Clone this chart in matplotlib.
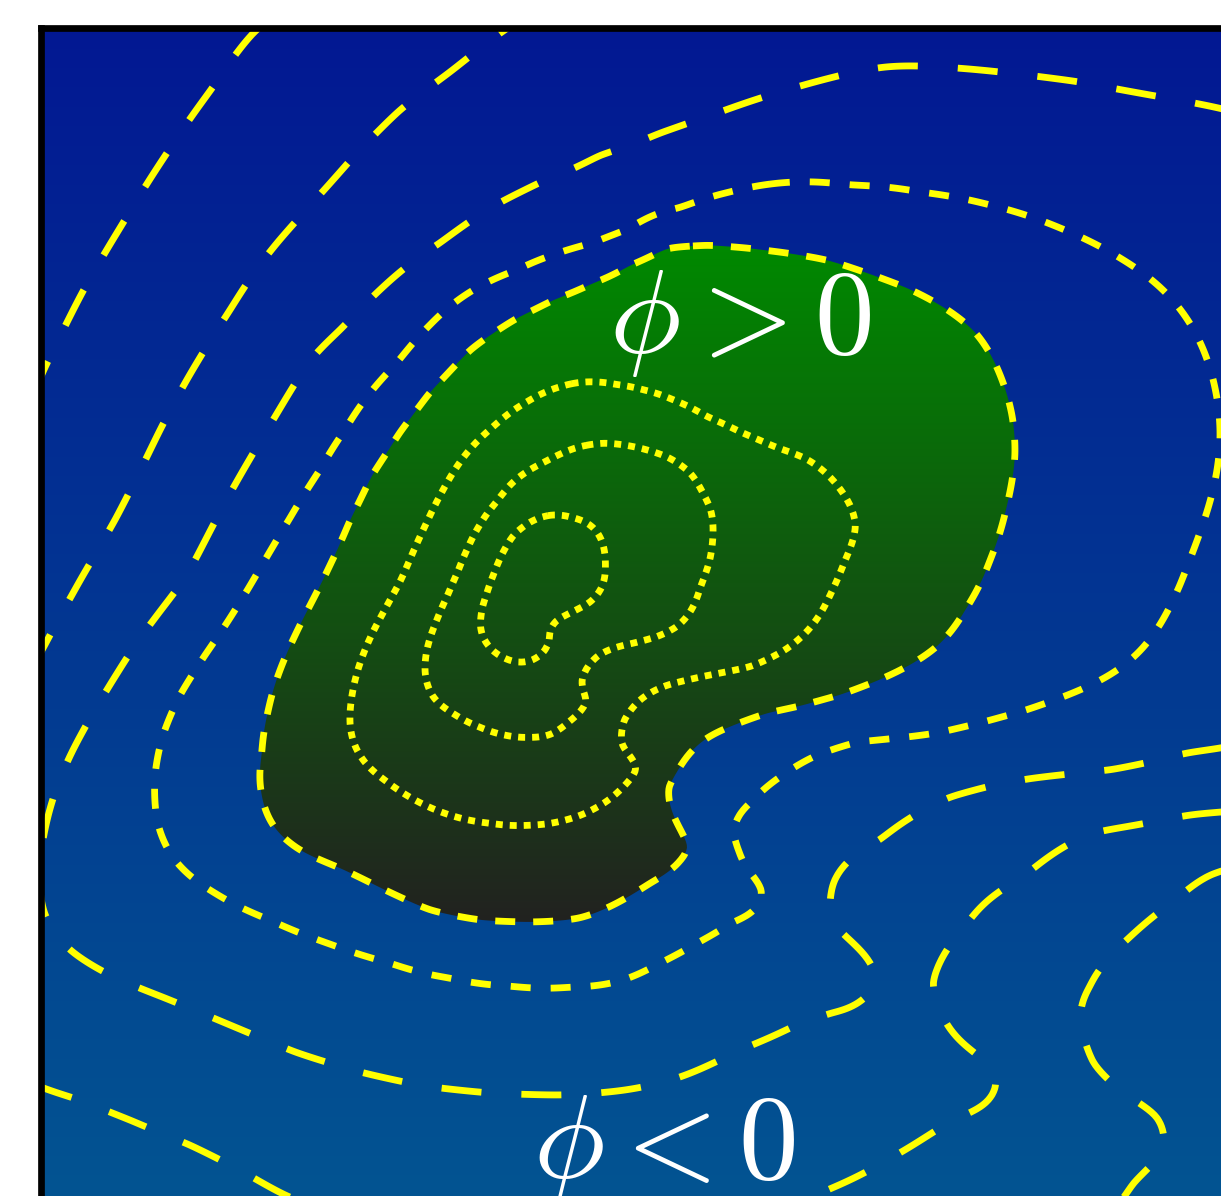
import numpy as np
import matplotlib
matplotlib.use("Agg")
import matplotlib.pyplot as plt

plt.rcParams['mathtext.fontset'] = 'cm'
plt.rcParams['lines.scale_dashes'] = False

# ---------------- data: level-set samples (pixel coords) -------------
level_p3 = [(550,515),(572,518),(590,525),(603,545),(605,565),(602,587),(590,603),(570,613),
            (555,620),(548,630),(551,642),(545,652),(533,660),(518,662),(503,657),(488,645),
            (480,628),(482,607),(490,583),(500,558),(513,535),(530,522)]
level_p2 = [(513,482),(497,502),(480,525),(468,548),(458,572),(448,595),(437,620),(428,645),
            (425,672),(433,697),(453,713),(480,727),(505,735),(530,737),(550,735),(568,722),
            (582,710),(590,702),(583,692),(580,680),(587,667),(598,655),(617,647),(635,643),
            (657,637),(677,627),(690,612),(700,587),(710,560),(713,533),(711,510),(702,492),
            (690,472),(668,457),(640,448),(605,443),(575,448),(545,462)]
level_p1 = [(593,382),(617,385),(643,390),(673,400),(707,417),(740,432),(775,447),(805,458),
            (830,477),(850,505),(856,525),(845,560),(830,595),(810,628),(785,650),(750,667),
            (700,677),(667,685),(640,700),(623,720),(620,743),(640,770),(620,790),(595,808),
            (565,820),(530,825),(490,823),(450,815),(415,800),(385,780),(360,755),(350,725),
            (353,690),(365,650),(382,615),(400,582),(413,552),(427,522),(442,492),
            (463,458),(492,428),(527,402),(560,387)]
level_0 = [(707,245),(747,248),(787,253),(827,260),(867,273),(907,288),(943,307),(975,332),
           (998,370),(1012,415),(1015,455),(1007,505),(990,560),(965,610),(935,648),(890,675),
           (840,695),(800,706),(767,713),(727,728),(693,750),(667,787),(677,823),(690,847),
           (680,860),(650,883),(617,903),(580,918),(530,922),(480,920),(430,910),(385,890),
           (340,868),(300,850),(275,828),(262,795),(262,755),(268,712),(282,665),(305,615),
           (330,565),(350,520),(372,475),(400,432),(430,392),(470,350),(517,318),(553,300),
           (593,283),(630,265),(667,248)]
level_m1 = [(780,183),(850,185),(920,192),(990,205),(1060,228),(1120,258),(1165,292),(1198,338),
            (1215,388),(1220,440),(1213,490),(1198,538),(1180,585),(1155,632),(1120,668),
            (1075,692),(1020,712),(980,723),(937,733),(897,738),(857,742),(817,755),(783,775),
            (752,802),(732,833),(743,863),(763,890),(760,903),(730,923),(697,943),(660,963),
            (623,980),(570,987),(510,986),(450,978),(390,963),(330,944),(270,920),(215,893),
            (175,860),(157,820),(155,775),(163,735),(180,695),(205,655),(235,610),(262,565),
            (290,518),(320,470),(345,430),(367,397),(397,363),(430,325),(470,292),(517,270),
            (553,255),(593,243),(627,230),(680,208),(730,192)]
level_m2 = [(1235,112),(1150,95),(1080,82),(1000,72),(940,67),(885,67),(830,78),(780,92),
            (720,112),(660,133),(600,155),(545,180),(490,208),(440,243),(383,287),(340,330),
            (313,357),(285,400),(258,445),(232,490),(208,535),(185,578),(152,622),(118,672),
            (88,722),(62,775),(46,825),(40,872),(45,915),(70,950),(110,975),(165,998),
            (230,1025),(295,1052),(360,1072),(425,1086),(490,1093),(560,1095),(625,1090),
            (680,1077),(740,1050),(800,1023),(830,1013),(878,980),(870,963),(850,940),
            (830,917),(830,900),(833,883),(850,860),(880,840),(915,815),(950,797),(990,786),
            (1027,779),(1070,774),(1110,770),(1150,762),(1187,753),(1235,745)]
level_m3 = [(520,20),(450,72),(400,110),(355,155),(315,200),(277,243),(230,310),(185,383),
            (160,430),(138,475),(115,520),(95,555),(72,595),(50,635),(30,670),
            (25,1080),(80,1100),(130,1120),(190,1145),(240,1170),(285,1195),
            (820,1193),(887,1160),(953,1120),(997,1080),(987,1063),(943,1017),(932,983),
            (963,930),(1023,877),(1093,833),(1190,815),(1240,810)]
level_m4 = [(270,18),(253,33),(213,87),(167,153),(123,223),(82,293),(45,367),(30,398),
            (1240,866),(1210,875),(1178,898),(1130,937),(1090,987),(1080,1023),(1093,1063),
            (1120,1090),(1157,1117),(1163,1150),(1133,1183),(1110,1215)]
# extra field samples (x, y, phi) between the drawn levels
field_anchors = [(545,585,3.5),(650,560,2.5),(500,780,1.5),(760,560,1.5),
                 (900,450,0.5),(700,300,0.5),(300,780,0.5),(520,880,0.5),
                 (1100,400,-0.5),(880,712,-0.5),
                 (900,130,-1.5),(1225,200,-1.5),(1225,600,-1.3),(1150,720,-1.5),
                 (550,1035,-1.5),(100,800,-1.6),(790,950,-1.5),
                 (1225,30,-2.5),(1100,30,-2.4),(700,30,-2.6),(600,100,-2.4),(300,300,-2.5),
                 (30,760,-2.3),(30,1000,-2.6),(200,1080,-2.5),(550,1170,-2.6),(720,1150,-2.5),
                 (860,1100,-2.5),(900,1060,-2.6),(1100,800,-2.5),(1240,780,-2.5),
                 (30,500,-3.5),(30,1220,-3.5),(1000,950,-3.5),(1050,1160,-3.5),(1000,1180,-3.5),
                 (1240,840,-3.5),
                 (30,30,-4.6),(60,150,-4.4),(1200,1010,-4.3),(1250,1000,-4.4),(1250,1250,-4.6)]

level_values = [-4, -3, -2, -1, 0, 1, 2, 3]
level_traces = [level_m4, level_m3, level_m2, level_m1, level_0, level_p1, level_p2, level_p3]

# ---------------- smooth field through the samples (thin-plate spline) -----------------
pts, vals = [], []
for v, tr in zip(level_values, level_traces):
    for (x, y) in tr:
        pts.append((x, y)); vals.append(v)
for (x, y, v) in field_anchors:
    pts.append((x, y)); vals.append(v)
P = np.array(pts, float) / 1000.0
fv = np.array(vals, float)

def tps_kernel(r2):
    out = np.zeros_like(r2)
    m = r2 > 0
    out[m] = 0.5 * r2[m] * np.log(r2[m])
    return out

n = len(P)
K = tps_kernel(((P[:, None, :] - P[None, :, :]) ** 2).sum(-1))
lam = 2e-4
A = np.zeros((n + 3, n + 3))
A[:n, :n] = K + lam * np.eye(n)
A[:n, n] = 1.0
A[:n, n + 1:] = P
A[n, :n] = 1.0
A[n + 1:, :n] = P.T
b = np.concatenate([fv, np.zeros(3)])
sol = np.linalg.solve(A, b)
w, a = sol[:n], sol[n:]

xs = np.linspace(30, 1270, 420)
ys = np.linspace(20, 1250, 420)
X, Y = np.meshgrid(xs, ys)
Z = np.empty_like(X)
for i in range(0, len(ys), 40):
    G = np.stack([X[i:i+40].ravel(), Y[i:i+40].ravel()], axis=1) / 1000.0
    Kg = tps_kernel(((G[:, None, :] - P[None, :, :]) ** 2).sum(-1))
    Z[i:i+40] = (Kg @ w + a[0] + G[:, 0] * a[1] + G[:, 1] * a[2]).reshape(X[i:i+40].shape)

# ---------------- figure ----------------
W, H, DPI = 1221, 1196, 100
fig = plt.figure(figsize=(W / DPI, H / DPI), dpi=DPI)
x0, x1 = 40.7, 1262.0
y0, y1 = 28.3, 1240.0
ax = fig.add_axes([x0 / W, (H - y1) / H, (x1 - x0) / W, (y1 - y0) / H])

blue_top = np.array([3, 24, 147]) / 255
blue_bot = np.array([2, 84, 145]) / 255
t = np.linspace(0, 1, 512)[:, None, None]
blue = blue_top + (blue_bot - blue_top) * t * np.ones((1, 2, 1))
ax.set_facecolor(blue_bot)
ax.imshow(blue, extent=[x0, x1, 1196, y0], aspect='auto', interpolation='bilinear', zorder=0)

green_top = np.array([0, 137, 0]) / 255
green_bot = np.array([34, 34, 32]) / 255
green = green_top + (green_bot - green_top) * t * np.ones((1, 2, 1))
cf = ax.contourf(X, Y, Z, levels=[0, Z.max() + 1])
blob = cf.get_paths()[0]
cf.remove()
gim = ax.imshow(green, extent=[x0, x1, 922, 245], aspect='auto', interpolation='bilinear', zorder=0.5)
gim.set_clip_path(blob, transform=ax.transData)

px = 0.72  # points per pixel
lw = 6.8 * px
styles = {
    -4: (0, (40 * px, 40 * px)),
    -3: (0, (40 * px, 40 * px)),
    -2: (0, (40 * px, 40 * px)),
    -1: (0, (20 * px, 20 * px)),
    0: (0, (20 * px, 18 * px)),
    1: (0, (7 * px, 7 * px)),
    2: (0, (7 * px, 7 * px)),
    3: (0, (7 * px, 7 * px)),
}
for v in level_values:
    ax.contour(X, Y, Z, levels=[v], colors='#ffff00', linewidths=lw,
               linestyles=[styles[v]], zorder=2)

ax.text(740, 353, r'$\phi > 0$', color='white', fontsize=86, ha='center', va='baseline', zorder=3)
ax.text(664, 1178, r'$\phi < 0$', color='white', fontsize=86, ha='center', va='baseline',
        zorder=3, clip_on=True)

ax.set_xlim(x0, x1)
ax.set_ylim(y1, y0)
ax.set_xticks([]); ax.set_yticks([])
for s in ax.spines.values():
    s.set_linewidth(6.7 * px)
    s.set_color('black')
    s.set_zorder(5)

fig.savefig('out.png', dpi=DPI)
